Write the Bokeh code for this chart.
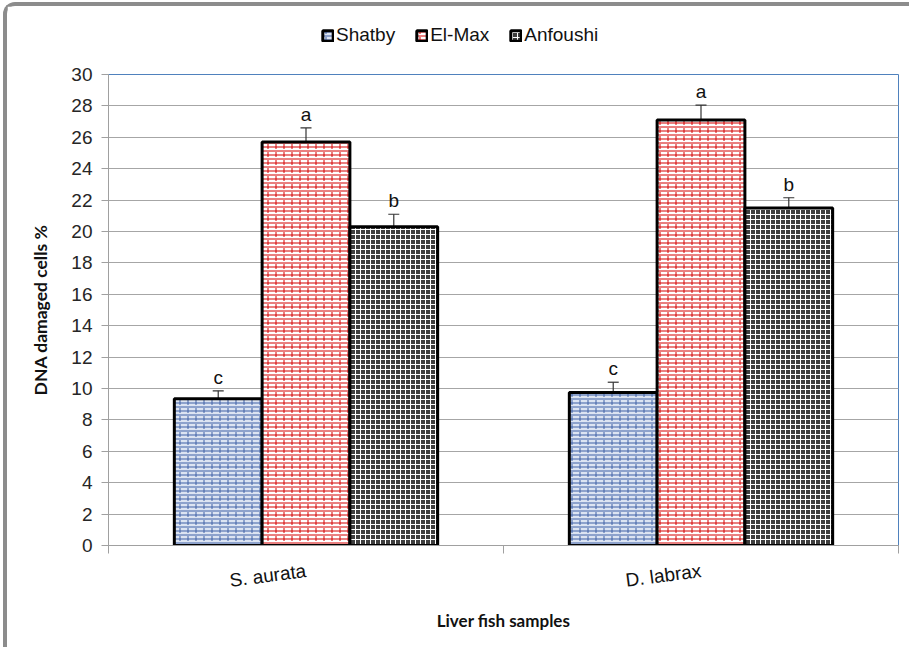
from bokeh.plotting import figure
from bokeh.layouts import column
from bokeh.models import (ColumnDataSource, FixedTicker, Whisker, TeeHead, Legend,
                          LegendItem, Range1d)
from bokeh.core.properties import value
from bokeh.embed import file_html
from bokeh.resources import INLINE

# ---- data ----
species = ["S. aurata", "D. labrax"]
sites = ["Shatby", "El-Max", "Anfoushi"]
shatby = [9.35, 9.75]
elmax = [25.7, 27.1]
anfoushi = [20.3, 21.5]
shatby_err = [0.5, 0.65]
elmax_err = [0.9, 0.95]
anfoushi_err = [0.8, 0.65]
shatby_sig = ["c", "c"]
elmax_sig = ["a", "a"]
anfoushi_sig = ["b", "b"]
y_ticks = list(range(0, 31, 2))

values = [shatby, elmax, anfoushi]
errors = [shatby_err, elmax_err, anfoushi_err]
sigs = [shatby_sig, elmax_sig, anfoushi_sig]

looks = [
    dict(fill="#dce4f2", hcol="#3d5fa6", h1="horizontal_line", s1=4, h2="vertical_dash", s2=8),
    dict(fill="#ffffff", hcol="#d40000", h1="horizontal_line", s1=4, h2="vertical_dash", s2=8),
    dict(fill="#3e3e3e", hcol="#ffffff", h1="cross", s1=5, h2=None, s2=None),
]

LEG_H = 50
W = 902

p = figure(width=W, height=641 - LEG_H, output_backend="svg", toolbar_location=None,
           x_range=Range1d(0, len(species)), y_range=Range1d(0, 30),
           min_border_left=101, min_border_top=18, min_border_right=11,
           min_border_bottom=102)
p.outline_line_color = "#4f81bd"
p.xgrid.visible = False
p.ygrid.grid_line_color = "#a6a6a6"
p.ygrid.ticker = FixedTicker(ticks=y_ticks)

# legend strip: hidden copies of the bar glyphs, only their legend is shown
lf = figure(width=W, height=LEG_H, output_backend="svg", toolbar_location=None,
            x_axis_type=None, y_axis_type=None,
            x_range=Range1d(0, len(species)), y_range=Range1d(0, 30),
            min_border_left=0, min_border_right=0, min_border_top=0, min_border_bottom=0)
lf.outline_line_color = None
lf.grid.visible = False


def add_bars(fig, src, lk, bar_w, visible=True):
    rs = [fig.vbar(x="x", top="top", bottom=0, width=bar_w, source=src,
                   fill_color=lk["fill"], line_color=None,
                   hatch_pattern=lk["h1"], hatch_scale=lk["s1"], hatch_color=lk["hcol"],
                   hatch_weight=1, visible=visible)]
    if lk["h2"]:
        rs.append(fig.vbar(x="x", top="top", bottom=0, width=bar_w, source=src,
                           fill_alpha=0, line_color="black", line_width=3,
                           hatch_pattern=lk["h2"], hatch_scale=lk["s2"],
                           hatch_color=lk["hcol"], hatch_weight=1, visible=visible))
    else:
        rs.append(fig.vbar(x="x", top="top", bottom=0, width=bar_w, source=src,
                           fill_alpha=0, line_color="black", line_width=3,
                           visible=visible))
    return rs


bar_w = (2 / 3) / len(sites)
legend_items = []
for k, site in enumerate(sites):
    lk = looks[k]
    xs = [i + 0.5 + (k - 1) * bar_w for i in range(len(species))]
    src = ColumnDataSource(dict(
        x=xs, top=values[k],
        upper=[v + e for v, e in zip(values[k], errors[k])],
        lower=[v - e for v, e in zip(values[k], errors[k])],
        sig=sigs[k]))
    add_bars(p, src, lk, bar_w)
    lrs = add_bars(lf, src, lk, bar_w, visible=False)
    legend_items.append(LegendItem(label=site, renderers=lrs))
    w = Whisker(base="x", upper="upper", lower="lower", source=src,
                line_color="#333333", line_width=1.2,
                upper_head=TeeHead(size=11, line_color="#333333", line_width=1.2),
                lower_head=TeeHead(size=11, line_color="#333333", line_width=1.2))
    p.add_layout(w)
    p.text(x="x", y="upper", text="sig", source=src, text_align="center",
           text_baseline="bottom", y_offset=-3,
           text_font=value("Liberation Sans"), text_font_size="19px",
           text_color="#111111")

# axes
ya = p.yaxis[0]
ya.ticker = FixedTicker(ticks=y_ticks)
ya.axis_label = "DNA damaged cells %"
ya.axis_label_text_font = "Lato"
ya.axis_label_text_font_style = "bold"
ya.axis_label_text_font_size = "17.5px"
ya.axis_label_text_color = "#111111"
ya.axis_label_standoff = 17
ya.major_label_text_font = "Liberation Sans"
ya.major_label_text_font_size = "19px"
ya.major_label_text_color = "#262626"
ya.major_label_standoff = 9
ya.major_tick_out = 7
ya.major_tick_in = 0
ya.minor_tick_out = 0
ya.minor_tick_in = 0
ya.axis_line_color = "#a0a0a0"
ya.major_tick_line_color = "#a0a0a0"

xa = p.xaxis[0]
xa.ticker = FixedTicker(ticks=[i + 0.5 for i in range(len(species))],
                        minor_ticks=list(range(len(species) + 1)))
xa.major_label_overrides = {i + 0.5: s for i, s in enumerate(species)}
xa.major_label_orientation = 0.13
xa.major_label_text_font = "Liberation Sans"
xa.major_label_text_font_size = "19px"
xa.major_label_text_color = "#111111"
xa.major_label_standoff = 17
xa.major_tick_out = 0
xa.major_tick_in = 0
xa.minor_tick_out = 8
xa.minor_tick_in = 0
xa.minor_tick_line_color = "#a0a0a0"
xa.axis_line_color = "#a0a0a0"
xa.axis_label = "Liver fish samples"
xa.axis_label_text_font = "Lato"
xa.axis_label_text_font_style = "bold"
xa.axis_label_text_font_size = "17px"
xa.axis_label_text_color = "#111111"
xa.axis_label_standoff = 6

legend = Legend(items=legend_items, orientation="horizontal", location=(213, 10),
                glyph_width=13, glyph_height=13, label_height=18, label_standoff=2,
                spacing=20, padding=0, margin=0, border_line_alpha=0,
                background_fill_alpha=0, label_text_font="Liberation Sans",
                label_text_font_size="19px", label_text_color="#111111",
                inactive_fill_alpha=0)
lf.add_layout(legend)

page = column(lf, p, spacing=0,
              styles={"border-style": "solid", "border-color": "#8c8c8c",
                      "border-width": "4px 0 0 4px", "border-top-left-radius": "12px",
                      "margin": "2px 0 0 3px"})

open("out.html", "w").write(file_html(page, INLINE))
